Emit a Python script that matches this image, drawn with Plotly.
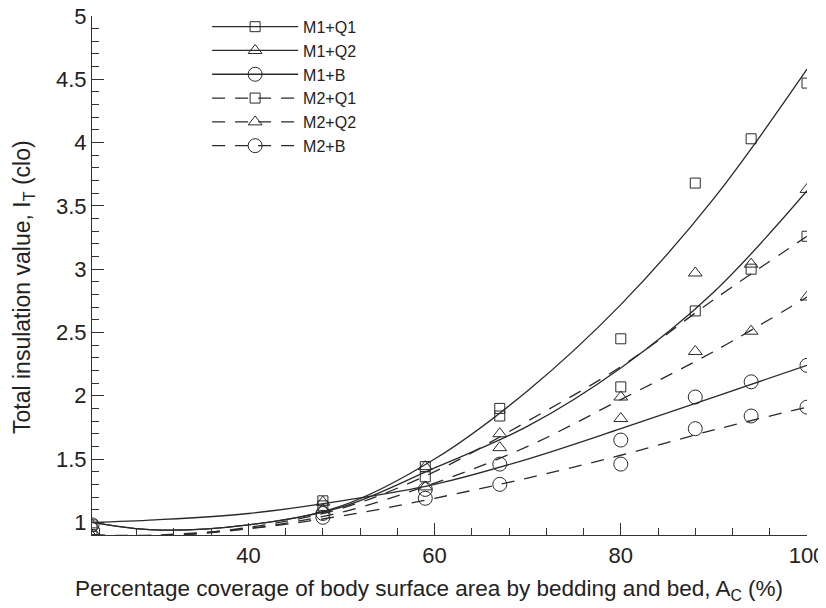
import plotly.graph_objects as go

# measured data points
x_pts = [23.2, 48, 59, 67, 80, 88, 94, 100]
m1q1_pts = [0.98, 1.17, 1.44, 1.90, 2.45, 3.68, 4.03, 4.47]
m1q2_pts = [0.98, 1.16, 1.44, 1.70, 1.99, 2.97, 3.04, 3.63]
m1b_pts = [0.98, 1.07, 1.26, 1.46, 1.65, 1.99, 2.11, 2.24]
m2q1_pts = [0.89, 1.13, 1.36, 1.84, 2.07, 2.67, 3.00, 3.26]
m2q2_pts = [0.89, 1.10, 1.28, 1.59, 1.82, 2.35, 2.51, 2.78]
m2b_pts = [0.89, 1.04, 1.19, 1.30, 1.46, 1.74, 1.84, 1.91]

# fitted curves
x_fit = [23.2, 30, 40, 50, 60, 70, 80, 90, 100]
m1q1_fit = [1.00, 0.94, 0.98, 1.13, 1.50, 2.04, 2.72, 3.56, 4.58]
m1q2_fit = [1.00, 0.94, 0.98, 1.12, 1.43, 1.76, 2.22, 2.82, 3.62]
m1b_fit = [1.00, 1.02, 1.07, 1.17, 1.30, 1.50, 1.74, 1.99, 2.24]
m2q1_fit = [0.90, 0.89, 0.96, 1.11, 1.40, 1.80, 2.23, 2.76, 3.26]
m2q2_fit = [0.90, 0.89, 0.95, 1.08, 1.31, 1.60, 1.97, 2.35, 2.78]
m2b_fit = [0.90, 0.90, 0.95, 1.05, 1.19, 1.35, 1.53, 1.73, 1.91]

series_names = ["M1+Q1", "M1+Q2", "M1+B", "M2+Q1", "M2+Q2", "M2+B"]
pts = [m1q1_pts, m1q2_pts, m1b_pts, m2q1_pts, m2q2_pts, m2b_pts]
fits = [m1q1_fit, m1q2_fit, m1b_fit, m2q1_fit, m2q2_fit, m2b_fit]

x_title = "Percentage coverage of body surface area by bedding and bed, A<sub>C</sub> (%)"
y_title = "Total insulation value, I<sub>T</sub> (clo)"

symbols = ["square-open", "triangle-up-open", "circle-open"] * 2
sizes = [10, 12, 14] * 2
dashes = ["solid"] * 3 + ["13px,10px"] * 3
ink = "#2a2a2a"

fig = go.Figure()
for name, p, f, sym, sz, ds in zip(series_names, pts, fits, symbols, sizes, dashes):
    fig.add_trace(go.Scatter(x=x_fit, y=f, mode="lines", line=dict(color=ink, width=1.3, dash=ds, shape="spline", smoothing=1.0),
                             showlegend=False, hoverinfo="skip"))
    fig.add_trace(go.Scatter(x=x_pts, y=p, mode="markers", marker=dict(symbol=sym, size=sz, color=ink, line=dict(width=1, color=ink)),
                             showlegend=False, name=name))
    fig.add_trace(go.Scatter(x=[None], y=[None], mode="lines+markers", name=name,
                             line=dict(color=ink, width=1.3, dash=ds),
                             marker=dict(symbol=sym, size=sz, color=ink, line=dict(width=1, color=ink))))

font = "Liberation Sans, Arial, sans-serif"
# the page body adds an 8px offset, so the figure is sized 818x600 to fill the 826x608 window
fig.update_layout(
    width=818, height=600,
    margin=dict(l=84, r=19, t=8, b=73, autoexpand=False),
    paper_bgcolor="white", plot_bgcolor="white",
    font=dict(family=font, size=22, color="#222"),
    showlegend=True,
    legend=dict(x=0.161, y=1.012, xanchor="left", yanchor="top", bgcolor="rgba(0,0,0,0)",
                font=dict(size=16), itemwidth=86, tracegroupgap=0),
    xaxis=dict(range=[23.2, 100], tick0=0, dtick=20, ticks="inside", ticklen=12, tickcolor="#333",
               showline=True, linecolor="#333", linewidth=1.2, showgrid=False, zeroline=False, automargin=False,
               ticklabeloverflow="allow",
               minor=dict(ticks="inside", ticklen=7, dtick=4, tick0=0, tickcolor="#333")),
    yaxis=dict(range=[0.9, 5.0], tick0=0, dtick=0.5, ticks="inside", ticklen=12, tickcolor="#333",
               showline=True, linecolor="#333", linewidth=1.2, showgrid=False, zeroline=False, automargin=False,
               ticklabeloverflow="allow",
               minor=dict(ticks="inside", ticklen=7, dtick=0.1, tick0=0, tickcolor="#333")),
    annotations=[
        dict(text=x_title, xref="paper", yref="paper", x=0.472, y=-0.1056, xanchor="center", yanchor="middle",
             showarrow=False, font=dict(size=22.5, family=font, color="#222")),
        dict(text=y_title, xref="paper", yref="paper", x=-0.095, y=0.478, xanchor="center", yanchor="middle",
             textangle=-90, showarrow=False, font=dict(size=23, family=font, color="#222")),
    ],
)
fig.write_html("out.html")
